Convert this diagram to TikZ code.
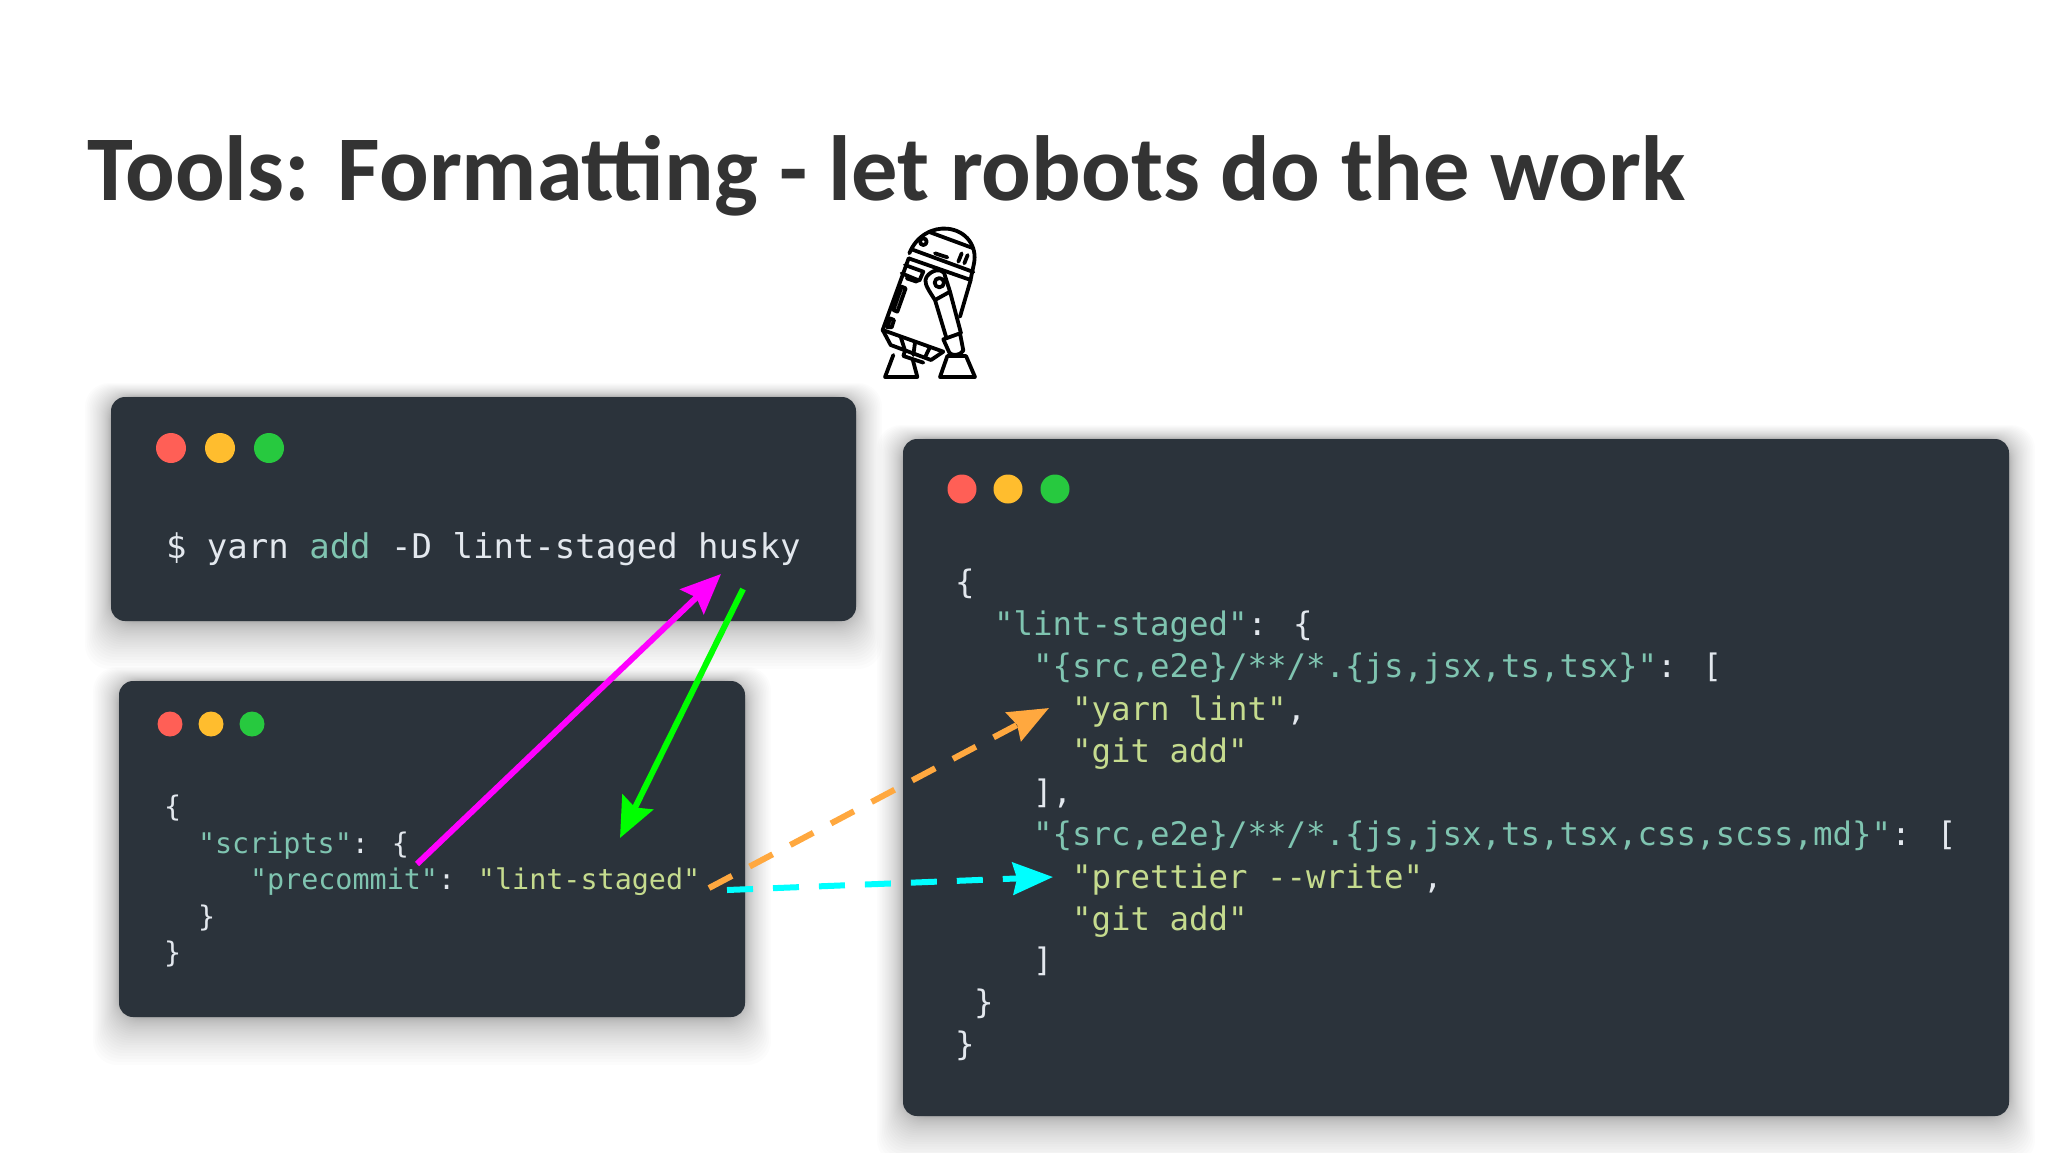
\documentclass[tikz,border=0pt]{standalone}
\usepackage{fontspec}
\usetikzlibrary{arrows.meta}
\setmainfont{Carlito}
\newfontfamily\codefont{DejaVu Sans Mono}
\definecolor{panelbg}{HTML}{2B333B}
\definecolor{codewhite}{HTML}{E3E8EE}
\definecolor{codeteal}{HTML}{7FC4B0}
\definecolor{codeyellow}{HTML}{C5DB8E}
\definecolor{dotred}{HTML}{FF5F56}
\definecolor{dotamber}{HTML}{FFBD2E}
\definecolor{dotgreen}{HTML}{27C93F}
\definecolor{arrowmagenta}{HTML}{FF00FF}
\definecolor{arrowgreen}{HTML}{00FF00}
\definecolor{arroworange}{HTML}{FFA83F}
\definecolor{arrowcyan}{HTML}{00FFFF}
\newcommand{\panelshadow}[4]{%
  \foreach \gr in {1,...,30} {
    \pgfmathsetmacro{\ge}{(\gr/30)^2}
    \fill[black,opacity=0.013,rounded corners=12pt]
      (#1-26*\ge,#2-14*\ge) rectangle (#3+26*\ge,#4+48*\ge);
  }}
\newcommand{\tk}{\color{codeteal}}
\newcommand{\yl}{\color{codeyellow}}
\tikzset{
  panel/.style={draw=none,fill=panelbg,rounded corners=7pt,inner sep=0pt,outer sep=0pt},
  dotnode/.style={circle,draw=none,inner sep=0pt,outer sep=0pt},
  codeline/.style={anchor=base west,inner sep=0pt,outer sep=0pt,text=codewhite},
  codeA/.style={codeline,font=\codefont\fontsize{17}{17}\selectfont},
  codeB/.style={codeline,font=\codefont\fontsize{14.2}{14.2}\selectfont},
  codeC/.style={codeline,font=\codefont\fontsize{16.2}{16.2}\selectfont},
  solidarrow/.style={line width=3pt,-{Stealth[length=20pt,width=17pt,inset=3pt]}},
  dasharrow/.style={line width=3pt,dash pattern=on 13pt off 10pt,-{Stealth[length=20pt,width=16pt,inset=2pt]}},
  robotline/.style={line width=1.9pt,line join=round,line cap=round,black},
}
\begin{document}
\begin{tikzpicture}[x=0.5pt,y=-0.5pt]
\useasboundingbox (0,0) rectangle (2048,1152);
\fill[white] (0,0) rectangle (2048,1152);

% title
\node[anchor=base west,inner sep=0pt,text=black!80] (title) at (87,200)
  {\resizebox{799pt}{!}{\fontsize{43}{43}\selectfont\bfseries Tools: Formatting - let robots do the work}};

% robot
\begin{scope}[shift={(860,220)},scale=1/3,robotline]
  \draw (148,100) .. controls (170,45) and (220,22) .. (262,26) .. controls (320,32) and (352,80) .. (342,130) -- (332,178);
  \draw (208,36) -- (338,84);
  \draw (155,88) -- (340,156);
  \draw (146,115) -- (332,180);
  \draw (190,65) circle (10);
  \draw (225,100) -- (262,112);
  \draw (295,125) -- (305,100);
  \draw (313,130) -- (323,105);
  \draw (146,115) -- (68,330) -- (250,395);
  \draw (332,180) -- (300,290);
  \draw (135,135) -- (190,155) -- (178,182) -- (125,160);
  \draw (140,175) -- (170,185);
  \draw (125,200) -- (100,270) -- (112,275) -- (137,205) -- cycle;
  \draw (90,295) -- (82,322) -- (95,322) -- (102,300) -- cycle;
  \draw (68,330) -- (92,375) -- (213,420) -- (250,395);
  \draw (122,350) -- (135,392);
  \draw (165,368) -- (160,405);
  \draw (208,385) -- (195,412);
  \draw (135,392) -- (130,408) -- (190,428);
  \draw (100,405) -- (75,471) -- (172,471) -- (158,418);
  \draw (200,170) .. controls (192,185) and (195,195) .. (225,240) -- (270,215) -- (252,158) .. controls (240,145) and (215,150) .. (200,170);
  \draw (238,188) circle (14);
  \draw (225,240) -- (258,350);
  \draw (270,215) -- (303,340);
  \draw (250,358) -- (300,340) -- (310,392) .. controls (300,408) and (275,408) .. (268,398) -- cycle;
  \draw (262,408) -- (240,471) -- (345,471) -- (318,408) -- cycle;
\end{scope}

% shadows
\panelshadow{111}{397}{856}{621}
\panelshadow{119}{681}{745}{1017}
\panelshadow{903}{439}{2009}{1116}

% panels
\node[panel,minimum width=372.5pt,minimum height=112pt] (panelA) at (483.5,509) {};
\node[panel,minimum width=313pt,minimum height=168pt] (panelB) at (432,849) {};
\node[panel,minimum width=553pt,minimum height=338.5pt] (panelC) at (1456,777.5) {};

% window buttons
\node[dotnode,fill=dotred,minimum size=15pt] (aR) at (171,448) {};
\node[dotnode,fill=dotamber,minimum size=15pt] (aY) at (220,448) {};
\node[dotnode,fill=dotgreen,minimum size=15pt] (aG) at (269,448) {};
\node[dotnode,fill=dotred,minimum size=12.5pt] (bR) at (170,724) {};
\node[dotnode,fill=dotamber,minimum size=12.5pt] (bY) at (211,724) {};
\node[dotnode,fill=dotgreen,minimum size=12.5pt] (bG) at (252,724) {};
\node[dotnode,fill=dotred,minimum size=14.5pt] (cR) at (962,489) {};
\node[dotnode,fill=dotamber,minimum size=14.5pt] (cY) at (1008,489) {};
\node[dotnode,fill=dotgreen,minimum size=14.5pt] (cG) at (1055,489) {};

% panel A text
\node[codeA] (a1) at (166,558) {\$ yarn {\tk add} -D lint-staged husky};

% panel B text
\node[codeB] (b1) at (164,816) {\{};
\node[codeB] (b2) at (198,853) {{\tk"scripts"}: \{};
\node[codeB] (b3) at (250,889) {{\tk"precommit"}: {\yl"lint-staged"}};
\node[codeB] (b4) at (198,926) {\}};
\node[codeB] (b5) at (164,962) {\}};

% panel C text
\node[codeC] (c1) at (955,593) {\{};
\node[codeC] (c2) at (994,635) {{\tk"lint-staged"}: \{};
\node[codeC] (c3) at (1033,677) {{\tk"\{src,e2e\}/**/*.\{js,jsx,ts,tsx\}"}: [};
\node[codeC] (c4) at (1072,720) {{\yl"yarn lint"},};
\node[codeC] (c5) at (1072,762) {{\yl"git add"}};
\node[codeC] (c6) at (1033,803) {],};
\node[codeC] (c7) at (1033,845) {{\tk"\{src,e2e\}/**/*.\{js,jsx,ts,tsx,css,scss,md\}"}: [};
\node[codeC] (c8) at (1072,888) {{\yl"prettier --write"},};
\node[codeC] (c9) at (1072,930) {{\yl"git add"}};
\node[codeC] (c10) at (1033,971) {]};
\node[codeC] (c11) at (974,1013) {\}};
\node[codeC] (c12) at (955,1055) {\}};

% connector ends
\coordinate (magStart) at (417,864);
\coordinate (magEnd) at (721,574);
\coordinate (grnStart) at (743,589);
\coordinate (grnEnd) at (620,838);
\coordinate (orgStart) at (709,888);
\coordinate (orgEnd) at (1049,708);
\coordinate (cyaStart) at (727,890);
\coordinate (cyaEnd) at (1053,877);

% connectors
\draw[solidarrow,arrowmagenta] (magStart) -- (magEnd);
\draw[solidarrow,arrowgreen] (grnStart) -- (grnEnd);
\draw[dasharrow,arroworange] (orgStart) -- (orgEnd);
\draw[dasharrow,arrowcyan] (cyaStart) -- (cyaEnd);
\end{tikzpicture}
\end{document}
